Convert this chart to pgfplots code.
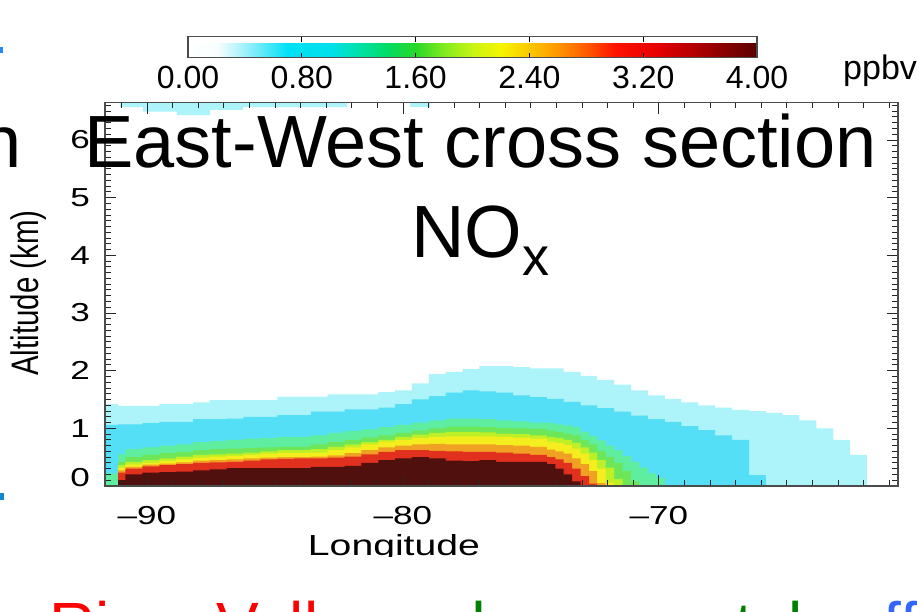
\documentclass[border=0pt]{standalone}
\usepackage{fontspec}
\setmainfont{Liberation Sans}
\newfontfamily\wide[FakeStretch=1.35]{Liberation Sans}
\usepackage{graphicx}
\usepackage{pgfplots}
\usepackage{pgfplotstable}
\pgfplotsset{compat=1.18}
\definecolor{cLC}{RGB}{173,243,250}
\definecolor{cCY}{RGB}{85,223,246}
\definecolor{cTG}{RGB}{95,238,160}
\definecolor{cGR}{RGB}{110,230,90}
\definecolor{cYG}{RGB}{190,240,40}
\definecolor{cYE}{RGB}{245,238,30}
\definecolor{cOR}{RGB}{240,160,35}
\definecolor{cRD}{RGB}{226,48,30}
\definecolor{cDR}{RGB}{80,16,14}
\definecolor{slred}{RGB}{255,0,0}
\definecolor{slgreen}{RGB}{0,128,0}
\definecolor{slblue}{RGB}{51,102,255}

% tops (km) of each NOx band, per model column (left edge longitude)
\pgfplotstableread{
lon    LC   CY   TG   GR   YG   YE   OR   RD   DR
-91.64 1.42 1.06 0.22 0    0    0    0    0    0
-91.13 1.39 1.07 0.55 0.42 0.36 0.31 0.27 0.23 0.10
-90.84 1.39 1.07 0.64 0.50 0.42 0.37 0.33 0.30 0.20
-90.18 1.39 1.09 0.67 0.54 0.45 0.40 0.37 0.34 0.23
-89.52 1.42 1.11 0.70 0.57 0.48 0.43 0.39 0.36 0.24
-88.86 1.42 1.11 0.72 0.59 0.51 0.46 0.41 0.38 0.25
-88.20 1.45 1.16 0.76 0.62 0.54 0.49 0.44 0.40 0.27
-87.55 1.49 1.16 0.78 0.64 0.55 0.51 0.45 0.41 0.29
-86.89 1.49 1.17 0.80 0.65 0.56 0.52 0.46 0.42 0.31
-86.23 1.49 1.20 0.82 0.66 0.58 0.54 0.48 0.44 0.31
-85.57 1.49 1.20 0.83 0.67 0.60 0.56 0.49 0.46 0.31
-84.91 1.55 1.23 0.85 0.68 0.62 0.57 0.50 0.47 0.31
-84.25 1.55 1.23 0.85 0.68 0.62 0.57 0.50 0.48 0.31
-83.60 1.55 1.29 0.88 0.72 0.64 0.58 0.51 0.48 0.33
-82.94 1.59 1.29 0.92 0.76 0.68 0.62 0.53 0.49 0.33
-82.28 1.59 1.33 0.95 0.80 0.72 0.67 0.57 0.51 0.35
-81.62 1.59 1.33 0.98 0.84 0.76 0.72 0.62 0.55 0.40
-80.96 1.63 1.36 1.02 0.88 0.80 0.77 0.67 0.59 0.45
-80.31 1.66 1.42 1.06 0.92 0.85 0.80 0.70 0.62 0.48
-79.65 1.78 1.50 1.10 0.96 0.89 0.83 0.72 0.62 0.50
-78.99 1.94 1.56 1.14 1.00 0.92 0.85 0.73 0.61 0.48
-78.33 1.98 1.62 1.17 1.03 0.94 0.86 0.72 0.60 0.44
-77.67 2.03 1.66 1.17 1.03 0.94 0.86 0.72 0.59 0.43
-77.01 2.08 1.64 1.16 1.02 0.93 0.86 0.72 0.59 0.45
-76.36 2.08 1.62 1.14 1.01 0.91 0.85 0.71 0.58 0.42
-75.70 2.06 1.57 1.12 1.00 0.90 0.84 0.70 0.56 0.42
-75.04 2.04 1.54 1.10 0.99 0.88 0.82 0.68 0.54 0.42
-74.38 2.04 1.51 1.09 0.96 0.85 0.77 0.63 0.50 0.38
-74.05 2.04 1.51 1.07 0.94 0.83 0.75 0.60 0.46 0.30
-73.72 1.98 1.46 1.05 0.91 0.80 0.71 0.56 0.40 0.20
-73.39 1.98 1.46 1.02 0.88 0.75 0.65 0.48 0.30 0.08
-73.06 1.91 1.40 0.94 0.80 0.67 0.56 0.38 0.17 0
-72.73 1.91 1.40 0.87 0.72 0.58 0.45 0.26 0.04 0
-72.41 1.84 1.35 0.79 0.61 0.45 0.30 0.05 0    0
-72.08 1.84 1.35 0.70 0.50 0.32 0.06 0    0    0
-71.75 1.76 1.29 0.62 0.40 0.12 0    0    0    0
-71.42 1.76 1.29 0.52 0.26 0    0    0    0    0
-71.09 1.66 1.22 0.42 0.08 0    0    0    0    0
-70.76 1.66 1.22 0.32 0    0    0    0    0    0
-70.43 1.57 1.16 0.22 0    0    0    0    0    0
-70.10 1.57 1.16 0.14 0    0    0    0    0    0
-69.77 1.51 1.11 0    0    0    0    0    0    0
-69.12 1.45 1.04 0    0    0    0    0    0    0
-68.46 1.40 0.97 0    0    0    0    0    0    0
-67.80 1.36 0.88 0    0    0    0    0    0    0
-67.14 1.32 0.80 0    0    0    0    0    0    0
-66.48 1.30 0.19 0    0    0    0    0    0    0
-65.82 1.27 0    0    0    0    0    0    0    0
-65.17 1.23 0    0    0    0    0    0    0    0
-64.51 1.14 0    0    0    0    0    0    0    0
-63.85 1.00 0    0    0    0    0    0    0    0
-63.19 0.80 0    0    0    0    0    0    0    0
-62.53 0.54 0    0    0    0    0    0    0    0
-61.88 0    0    0    0    0    0    0    0    0
-60.66 0    0    0    0    0    0    0    0    0
}\nox

\begin{document}
\begin{tikzpicture}
\useasboundingbox (0pt,0pt) rectangle (917pt,611pt);
\begin{axis}[
  at={(105pt,125pt)}, anchor=south west,
  width=793pt, height=383.5pt, scale only axis,
  xmin=-91.64, xmax=-60.66, ymin=0, ymax=6.65,
  axis on top,
  xtick={-90,-80,-70}, xticklabels={–90,–80,–70},
  minor xtick={-91,-90,...,-61},
  ytick={0,1,2,3,4,5,6},
  yticklabels={\raisebox{18pt}{0},1,2,3,4,5,6},
  minor ytick={0,0.1,...,6.6},
  tick align=inside,
  major tick length=11pt, minor tick length=6pt,
  tick style={black!85, line width=0.9pt},
  axis line style={black!70, line width=1.3pt},
  /pgf/number format/assume math mode=true,
  ticklabel style={font=\wide\fontsize{26}{28}\selectfont},
  xticklabel style={inner sep=0pt, anchor=north, yshift=-20pt},
  yticklabel style={inner sep=0pt, anchor=east, xshift=-15pt},
  xlabel={Longitude},
  xlabel style={at={(axis description cs:0.3644,-0.18)}, anchor=base, inner sep=0pt,
    font=\wide\fontsize{29}{32}\selectfont},
  ylabel={\scalebox{1}[1.3]{Altitude (km)}},
  ylabel style={at={(axis description cs:-0.097,0.503)}, anchor=center, inner sep=0pt,
    font=\fontsize{29.5}{32}\selectfont},
  point meta min=0, point meta max=4,
  colormap={idl}{rgb255(0)=(255,255,255) rgb255(2)=(248,255,255) rgb255(4)=(160,240,250)
    rgb255(7)=(0,225,245) rgb255(10)=(0,224,235) rgb255(12)=(0,225,170)
    rgb255(14)=(0,220,100) rgb255(16)=(40,215,40) rgb255(18)=(130,235,30)
    rgb255(20)=(200,245,20) rgb255(22)=(245,245,0) rgb255(24)=(250,200,0)
    rgb255(26)=(255,150,0) rgb255(28)=(255,90,0) rgb255(30)=(255,20,0)
    rgb255(33)=(230,0,0) rgb255(36)=(170,0,0) rgb255(40)=(90,0,0)},
  colorbar horizontal,
  colorbar style={
    at={(parent axis.north west)}, anchor=north west,
    xshift=83pt, yshift=74.5pt,
    width=569pt, height=21pt, scale only axis,
    xtick={0,0.8,1.6,2.4,3.2,4},
    xticklabels={0.00,0.80,1.60,2.40,3.20,4.00},
    xticklabel style={font=\fontsize{32}{34}\selectfont, inner sep=0pt, anchor=north, yshift=-8pt},
    tick align=inside, xtick pos=both,
    major tick length=5pt,
    tick style={black, line width=1pt},
    axis line style={black!70, line width=1.3pt},
  },
]
\addplot[const plot, draw=none, fill=cLC] table[x=lon,y=LC]{\nox} \closedcycle;
\addplot[const plot, draw=none, fill=cCY] table[x=lon,y=CY]{\nox} \closedcycle;
\addplot[const plot, draw=none, fill=cTG] table[x=lon,y=TG]{\nox} \closedcycle;
\addplot[const plot, draw=none, fill=cGR] table[x=lon,y=GR]{\nox} \closedcycle;
\addplot[const plot, draw=none, fill=cYG] table[x=lon,y=YG]{\nox} \closedcycle;
\addplot[const plot, draw=none, fill=cYE] table[x=lon,y=YE]{\nox} \closedcycle;
\addplot[const plot, draw=none, fill=cOR] table[x=lon,y=OR]{\nox} \closedcycle;
\addplot[const plot, draw=none, fill=cRD] table[x=lon,y=RD]{\nox} \closedcycle;
\addplot[const plot, draw=none, fill=cDR] table[x=lon,y=DR]{\nox} \closedcycle;
% upper-level NOx patch at the top of the domain
\addplot[draw=none, fill=cLC] coordinates {(-91.05,6.65) (-91.05,6.57) (-90.16,6.57)
  (-90.16,6.49) (-88.83,6.49) (-88.83,6.43) (-87.54,6.43) (-87.54,6.52) (-86.25,6.52)
  (-86.25,6.57) (-82.19,6.57) (-82.19,6.65)};
\addplot[draw=none, fill=cLC] coordinates {(-79.73,6.65) (-79.73,6.57) (-78.95,6.57) (-78.95,6.65)};
\end{axis}
% cut of the figure below the axis label
\fill[white] (290pt,54pt) rectangle (500pt,22pt);
% units of the colour bar
\node[anchor=base west, inner sep=0pt] at (843pt,531pt) {\fontsize{34}{36}\selectfont ppbv};
% slide text laid over the figure
\node[anchor=base, inner sep=0pt] at (480.5pt,443pt) {\fontsize{74}{80}\selectfont East-West cross section};
\node[anchor=base west, inner sep=0pt] at (411pt,353pt) {\fontsize{74}{80}\selectfont NO\raisebox{-18pt}{\fontsize{54}{60}\selectfont x}};
\node[anchor=base east, inner sep=0pt] at (22pt,443pt) {\fontsize{74}{80}\selectfont n};
\node[anchor=base west, inner sep=0pt, text=slred] at (49pt,-36pt) {\fontsize{64}{68}\selectfont River Valley};
\node[anchor=base west, inner sep=0pt, text=slgreen] at (379pt,-36pt) {\fontsize{64}{68}\selectfont and on};
\node[anchor=base west, inner sep=0pt, text=slgreen] at (600pt,-36pt) {\fontsize{64}{68}\selectfont coastal};
\node[anchor=base west, inner sep=0pt, text=slblue] at (848pt,-36pt) {\fontsize{64}{68}\selectfont offshore};
\fill[slblue!80!cyan] (0pt,558pt) rectangle (3pt,564pt);
\fill[cyan!70!blue] (0pt,111pt) rectangle (4pt,118pt);
\end{tikzpicture}
\end{document}
